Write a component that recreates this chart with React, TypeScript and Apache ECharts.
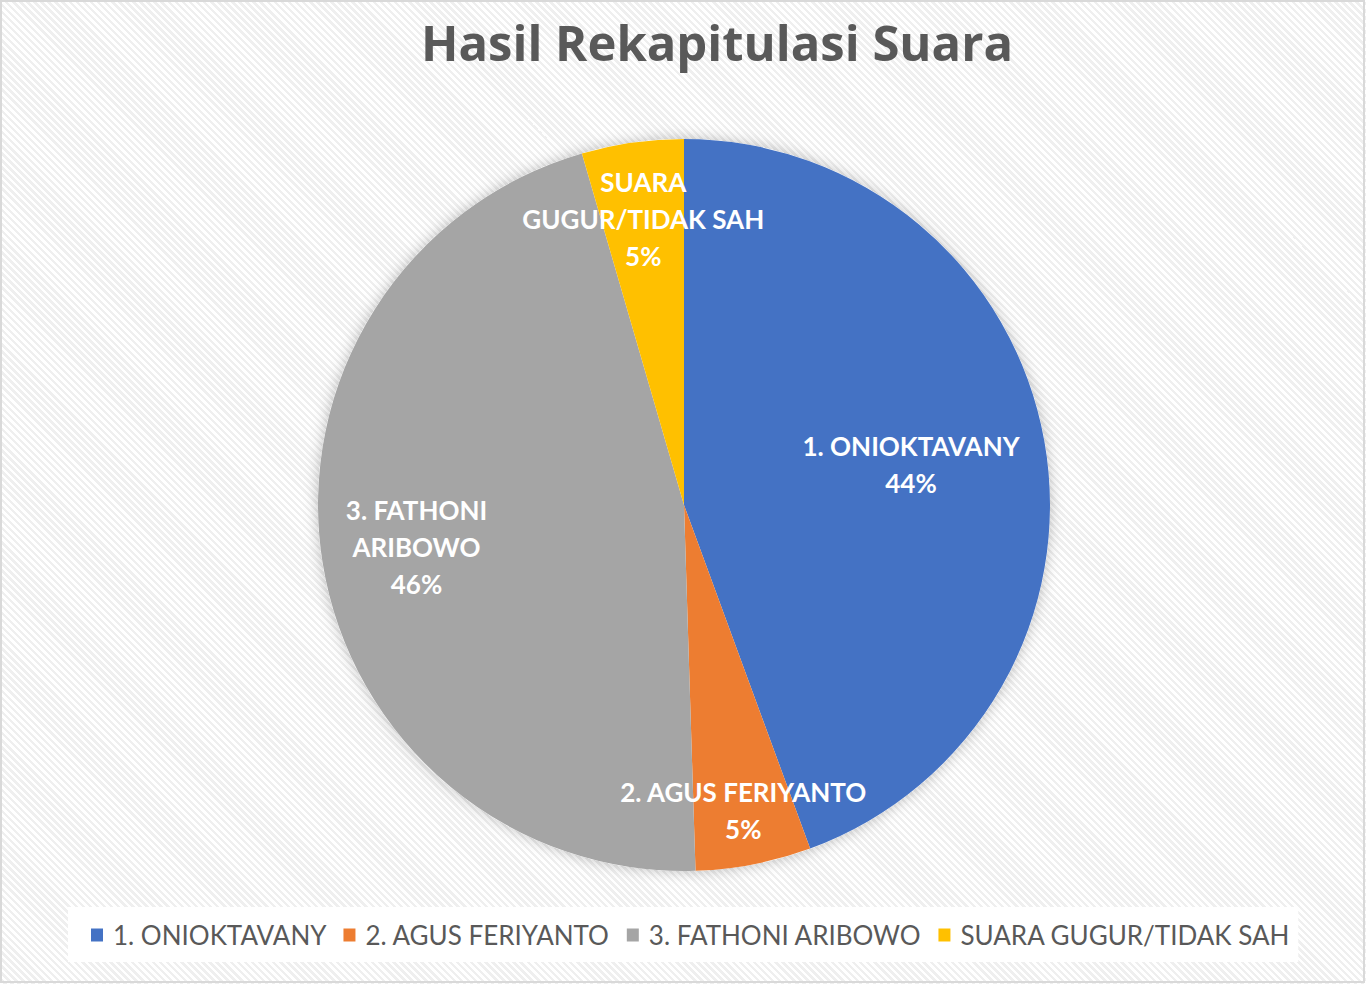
import { useEffect, useRef } from "react";
import * as echarts from "echarts";

const titleText = "Hasil Rekapitulasi Suara";
const categories = ["1. ONIOKTAVANY", "2. AGUS FERIYANTO", "3. FATHONI ARIBOWO", "SUARA GUGUR/TIDAK SAH"];
const labelTexts = ["1. ONIOKTAVANY", "2. AGUS FERIYANTO", "3. FATHONI\nARIBOWO", "SUARA\nGUGUR/TIDAK SAH"];
const votes = [444, 51, 460, 45];
const colors = ["#4472C4", "#ED7D31", "#A5A5A5", "#FFC000"];
const labelRadius = [0.63, 0.85, 0.74, 0.79];

const CX = 684;
const CY = 505;
const R = 366;

export default function App() {
  const ref = useRef<HTMLDivElement>(null);
  useEffect(() => {
    if (!ref.current) return;
    const chart = echarts.init(ref.current, undefined, { renderer: "svg" });
    const total = votes.reduce((a, b) => a + b, 0);
    const font = "Lato, 'Open Sans', sans-serif";
    chart.setOption({
      animation: false,
      backgroundColor: "transparent",
      title: {
        text: titleText,
        left: 421,
        top: 17,
        padding: 0,
        textStyle: { fontFamily: "'Open Sans', Lato, sans-serif", fontWeight: "bold", fontSize: 49, color: "#595959" },
      },
      legend: {
        data: categories,
        left: 68,
        top: 907,
        padding: [15, 8, 14, 23],
        backgroundColor: "#ffffff",
        itemWidth: 12,
        itemHeight: 13,
        itemGap: 17,
        icon: "rect",
        textStyle: { fontFamily: font, fontSize: 26, color: "#595959", padding: [0, 0, 0, 5] },
      },
      graphic: [
        {
          type: "rect",
          shape: { x: 1, y: 1, width: 1363, height: 981 },
          style: { fill: "none", stroke: "#d9d9d9", lineWidth: 2 },
          silent: true,
          z: -1,
        },
      ],
      series: [
        {
          type: "pie",
          silent: true,
          center: [CX, CY],
          radius: [0, R],
          label: { show: false },
          labelLine: { show: false },
          itemStyle: { color: "#ffffff", shadowBlur: 14, shadowColor: "rgba(0,0,0,0.25)" },
          data: [{ value: 1, name: "" }],
          z: 1,
        },
        {
          type: "pie",
          center: [CX, CY],
          radius: [0, R],
          startAngle: 90,
          clockwise: true,
          z: 2,
          data: categories.map((name, i) => ({
            name,
            value: votes[i],
            itemStyle: { color: colors[i] },
          })),
          label: {
            show: true,
            position: "inside",
            formatter: (p: any) => `${labelTexts[p.dataIndex]}\n${Math.round(p.percent)}%`,
            fontFamily: font,
            fontWeight: "bold",
            fontSize: 26,
            lineHeight: 37,
            color: "#ffffff",
            align: "center",
          },
          labelLine: { show: false },
          labelLayout: (p: any) => {
            const idx = p.dataIndex;
            let start = 0;
            for (let i = 0; i < idx; i++) start += votes[i];
            const mid = ((start + votes[idx] / 2) / total) * Math.PI * 2;
            const r = R * labelRadius[idx];
            return {
              x: CX + r * Math.sin(mid),
              y: CY - r * Math.cos(mid),
              align: "center",
              verticalAlign: "middle",
            };
          },
        },
      ],
    });
    return () => chart.dispose();
  }, []);
  return (
    <div
      style={{
        position: "absolute",
        left: 0,
        top: 0,
        width: 1366,
        height: 984,
        background:
          "repeating-linear-gradient(45deg, #ffffff 0px, #ffffff 2.5px, #efefef 2.5px, #efefef 5px)",
      }}
    >
      <div ref={ref} style={{ width: 1366, height: 984 }} />
    </div>
  );
}
